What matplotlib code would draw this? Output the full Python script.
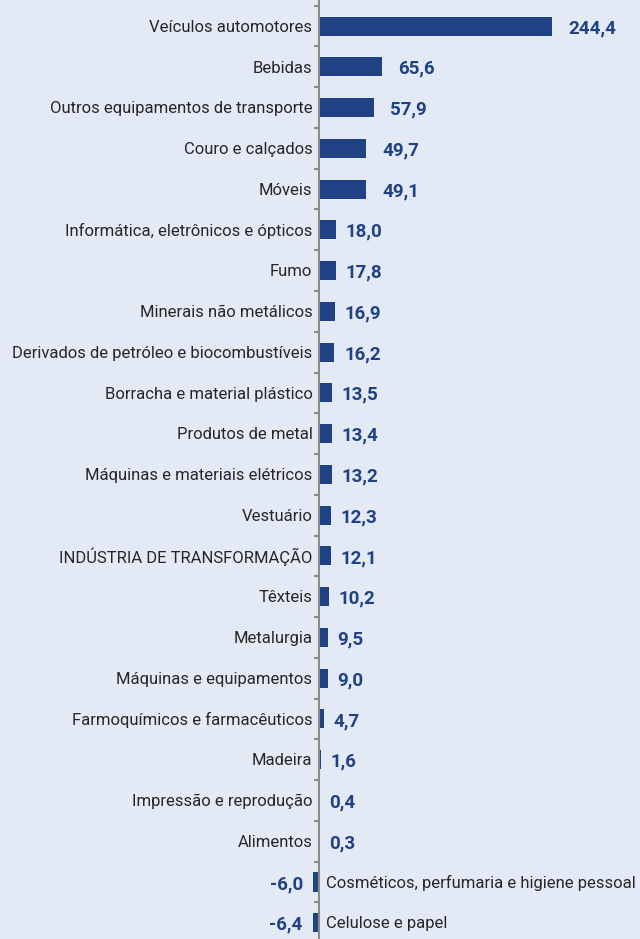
import matplotlib.pyplot as plt
import numpy as np

categories = [
    "Veículos automotores",
    "Bebidas",
    "Outros equipamentos de transporte",
    "Couro e calçados",
    "Móveis",
    "Informática, eletrônicos e ópticos",
    "Fumo",
    "Minerais não metálicos",
    "Derivados de petróleo e biocombustíveis",
    "Borracha e material plástico",
    "Produtos de metal",
    "Máquinas e materiais elétricos",
    "Vestuário",
    "INDÚSTRIA DE TRANSFORMAÇÃO",
    "Têxteis",
    "Metalurgia",
    "Máquinas e equipamentos",
    "Farmoquímicos e farmacêuticos",
    "Madeira",
    "Impressão e reprodução",
    "Alimentos",
    "Cosméticos, perfumaria e higiene pessoal",
    "Celulose e papel",
]

values = [244.4, 65.6, 57.9, 49.7, 49.1, 18.0, 17.8, 16.9, 16.2, 13.5,
          13.4, 13.2, 12.3, 12.1, 10.2, 9.5, 9.0, 4.7, 1.6, 0.4, 0.3,
          -6.0, -6.4]

bg = "#E4EAF5"
bar_color = "#1F4285"
label_color = "#1F4285"
text_color = "#262626"

fig = plt.figure(figsize=(6.4, 9.39), dpi=100, facecolor=bg)
ax = fig.add_axes([0, 0, 1, 1], facecolor=bg)

y = np.arange(len(categories))
ax.barh(y, values, height=0.47, color=bar_color, zorder=2)

ax.set_xlim(-335, 337)
ax.set_ylim(22.4, -0.64)

for i, (cat, v) in enumerate(zip(categories, values)):
    val_txt = f"{v:.1f}".replace(".", ",")
    if v >= 0:
        gap = 17 if v > 40 else 10
        ax.text(-7, i + 0.03, cat, ha="right", va="center", fontsize=12,
                family="Roboto", weight="normal", color=text_color)
        ax.text(v + gap, i + 0.05, val_txt, ha="left", va="center",
                fontsize=13.5, family="Roboto", weight="bold",
                color=label_color)
    else:
        ax.text(7, i + 0.03, cat, ha="left", va="center", fontsize=12,
                family="Roboto", weight="normal", color=text_color)
        ax.text(v - 11, i + 0.05, val_txt, ha="right", va="center",
                fontsize=13.5, family="Roboto", weight="bold",
                color=label_color)

# vertical axis at zero with tick marks between categories
ax.axvline(0, color="#8C8C8C", lw=1.5, zorder=3)
boundaries = np.arange(-0.5, len(categories), 1.0)
for b in boundaries:
    ax.plot([-5, 0], [b, b], color="#8C8C8C", lw=1.5, zorder=3,
            solid_capstyle="butt")

for s in ax.spines.values():
    s.set_visible(False)
ax.set_xticks([])
ax.set_yticks([])

fig.savefig("out.png", dpi=100, facecolor=bg)
